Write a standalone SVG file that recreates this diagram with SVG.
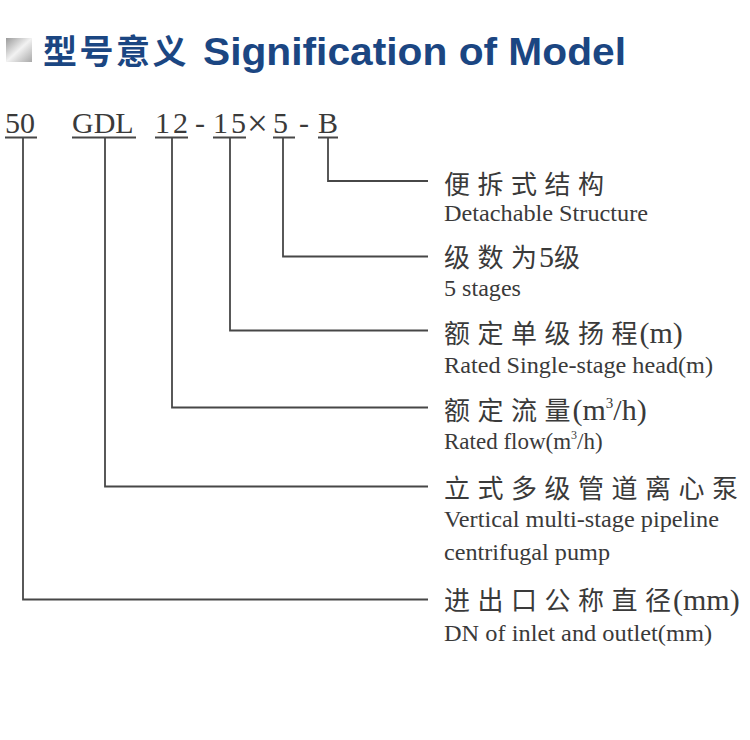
<svg xmlns="http://www.w3.org/2000/svg" width="750" height="740" viewBox="0 0 750 740">
<defs>
<linearGradient id="silver" x1="0" y1="0" x2="1" y2="1">
<stop offset="0" stop-color="#9a9a9a"/>
<stop offset="0.5" stop-color="#f2f2f2"/>
<stop offset="1" stop-color="#a8a8a8"/>
</linearGradient>
<style>
.title{font-family:"Liberation Sans","Noto Sans CJK SC",sans-serif;font-weight:bold;fill:#1b4682}
.code{font-family:"Liberation Serif",serif;font-size:30px;fill:#3a3a3a}
.zh{font-family:"Noto Sans CJK SC",sans-serif;font-size:26px;fill:#3a3a3a;letter-spacing:7.5px}
.zh .t{letter-spacing:2px}
.zh .n{font-family:"Liberation Serif",serif;font-size:30px;letter-spacing:0}
.zh .sup{font-size:15px}
.en{font-family:"Liberation Serif",serif;font-size:23px;fill:#3a3a3a}
.en .sup{font-size:12px}
.ln{fill:none;stroke:#474747;stroke-width:1.8}
</style>
</defs>
<rect width="750" height="740" fill="#ffffff"/>
<g id="title">
<rect x="6" y="38" width="26" height="24" fill="url(#silver)"/>
<text class="title" x="43" y="64" font-size="34" letter-spacing="2.5">型号意义</text>
<text class="title" x="203" y="65" font-size="39" textLength="423" lengthAdjust="spacingAndGlyphs">Signification of Model</text>
</g>
<g id="code">
<text class="code" x="5" y="133">50</text>
<text class="code" x="72" y="133">GDL</text>
<text class="code" x="155" y="133">1</text>
<text class="code" x="173" y="133">2</text>
<text class="code" x="195" y="133">-</text>
<text class="code" x="213" y="133">1</text>
<text class="code" x="231" y="133">5</text>
<text class="code" x="247" y="136" style="font-size:37px">×</text>
<text class="code" x="273" y="133">5</text>
<text class="code" x="299" y="133">-</text>
<text class="code" x="318" y="133">B</text>
<path class="ln" d="M5 137.5H37M72 137.5H136M155 137.5H188M213 137.5H246M273 137.5H295M318 137.5H338"/>
</g>
<g id="connectors">
<path class="ln" d="M328 137.5V181H428"/>
<path class="ln" d="M283 137.5V256.5H428"/>
<path class="ln" d="M230 137.5V330.5H428"/>
<path class="ln" d="M172 137.5V407.5H428"/>
<path class="ln" d="M105 137.5V486.5H428"/>
<path class="ln" d="M23 137.5V599.5H428"/>
</g>
<g id="label-b">
<text class="zh" x="444" y="194">便拆式结构</text>
<text class="en" x="444" y="221" textLength="204" lengthAdjust="spacingAndGlyphs">Detachable Structure</text>
</g>
<g id="label-stages">
<text class="zh" x="444" y="267">级数<tspan class="t">为</tspan><tspan class="n">5</tspan>级</text>
<text class="en" x="444" y="296" textLength="77" lengthAdjust="spacingAndGlyphs">5 stages</text>
</g>
<g id="label-head">
<text class="zh" x="444" y="343">额定单级扬<tspan class="t">程</tspan><tspan class="n">(m)</tspan></text>
<text class="en" x="444" y="373" textLength="269" lengthAdjust="spacingAndGlyphs">Rated Single-stage head(m)</text>
</g>
<g id="label-flow">
<text class="zh" x="444" y="420">额定流<tspan class="t">量</tspan><tspan class="n">(m</tspan><tspan class="n sup" dy="-12">3</tspan><tspan class="n" dy="12">/h)</tspan></text>
<text class="en" x="444" y="449">Rated flow(m<tspan class="sup" dy="-10">3</tspan><tspan dy="10">/h)</tspan></text>
</g>
<g id="label-type">
<text class="zh" x="444" y="498">立式多级管道离心泵</text>
<text class="en" x="444" y="527" textLength="275" lengthAdjust="spacingAndGlyphs">Vertical multi-stage pipeline</text>
<text class="en" x="444" y="560" textLength="166" lengthAdjust="spacingAndGlyphs">centrifugal pump</text>
</g>
<g id="label-dn">
<text class="zh" x="444" y="610">进出口公称直<tspan class="t">径</tspan><tspan class="n">(mm)</tspan></text>
<text class="en" x="444" y="641" textLength="268" lengthAdjust="spacingAndGlyphs">DN of inlet and outlet(mm)</text>
</g>
</svg>
